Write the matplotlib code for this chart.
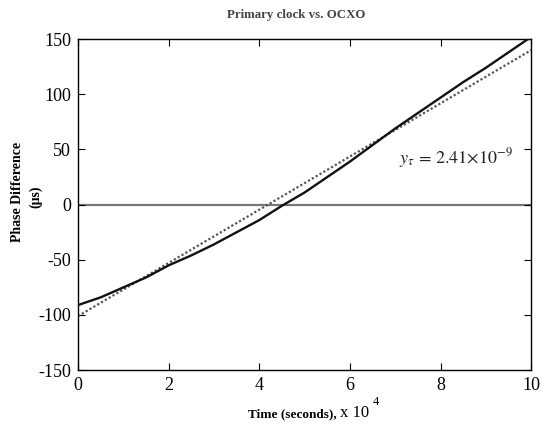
import numpy as np
import matplotlib
matplotlib.use("Agg")
import matplotlib.pyplot as plt

plt.rcParams['font.family'] = ['Liberation Serif', 'DejaVu Serif']
plt.rcParams['mathtext.fontset'] = 'stix'
plt.rcParams['axes.unicode_minus'] = False

# measured phase difference (solid) and linear fit (dotted), x in 1e4 s
t_meas = [0, 0.5, 1, 1.5, 2, 2.5, 3, 3.5, 4, 4.5, 5, 5.5, 6, 6.5, 7, 7.5, 8, 8.5, 9, 9.5, 10]
phase_meas = [-91, -84, -75, -66, -55, -46, -36, -25, -14, -1, 11, 25, 39, 54, 69, 83, 97, 111, 124, 138, 152]
t_fit = [0, 10]
phase_fit = [-101, 140]

fig = plt.figure(figsize=(5.42, 4.25), dpi=100)
ax = fig.add_axes([0.144, 0.129, 0.836, 0.779])

ax.axhline(0, color='#777777', lw=1.6, zorder=1)
ax.plot(t_fit, phase_fit, color='#555555', lw=1.6, ls=(0, (1, 1)), zorder=2)
ax.plot(t_meas, phase_meas, color='#111111', lw=1.7, zorder=3)

ax.set_xlim(0, 10)
ax.set_ylim(-150, 150)
ax.set_xticks([0, 2, 4, 6, 8, 10])
ax.set_yticks([-150, -100, -50, 0, 50, 100, 150])
ax.tick_params(direction='in', length=5, top=True, right=True, labelsize=13, pad=5)
for s in ax.spines.values():
    s.set_linewidth(1.0)

ax.text(7.08, 37, r'$y_{\tau}\,=\,2.41{\times}10^{-9}$', fontsize=13, color='#222222')

fig.text(0.547, 0.965, 'Primary clock vs. OCXO', ha='center', va='center',
         fontsize=9.3, fontweight='bold', color='#444444')

fig.text(0.033, 0.548, 'Phase Difference', rotation=90, ha='center', va='center',
         fontsize=10, fontweight='bold')
fig.text(0.065, 0.536, '(\u03bcs)', rotation=90, ha='center', va='center',
         fontsize=10, fontweight='bold')

fig.text(0.458, 0.019, 'Time (seconds),', ha='left', va='baseline',
         fontsize=9.5, fontweight='bold')
fig.text(0.627, 0.019, 'x 10', ha='left', va='baseline', fontsize=12)
fig.text(0.688, 0.047, '4', ha='left', va='baseline', fontsize=9)

fig.savefig('out.png', dpi=100)
